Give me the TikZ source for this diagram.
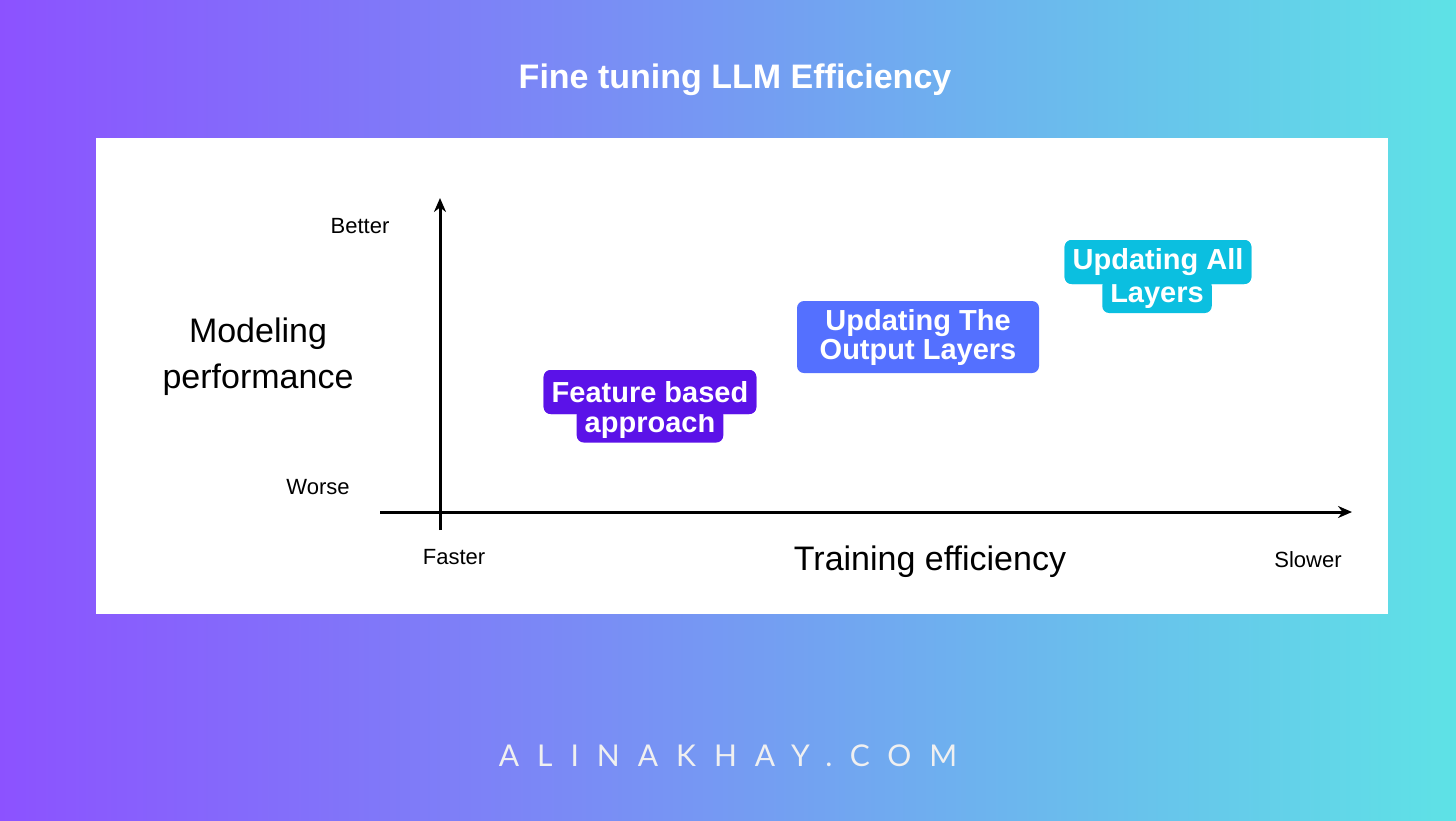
\documentclass[tikz,border=0pt]{standalone}
\usepackage{fontspec}
\usetikzlibrary{arrows.meta}
\setmainfont{Liberation Sans}
\newfontfamily\spaced[LetterSpace=60]{Lato}
\begin{document}
\begin{tikzpicture}[x=1pt,y=-1pt,
  ax/.style={line width=3pt,-{Stealth[length=14pt,width=12pt]}},
  lbl/.style={font=\fontsize{22}{24}\selectfont, text=black},
  big/.style={font=\fontsize{34}{40}\selectfont, text=black},
  tag/.style={rounded corners=7pt, text=white, font=\fontsize{29}{30}\selectfont\bfseries, inner xsep=8pt, inner ysep=4pt}]
\definecolor{cpurple}{RGB}{140,82,255}
\definecolor{ccyan}{RGB}{94,226,230}
\definecolor{tagA}{RGB}{91,18,232}
\definecolor{tagB}{RGB}{84,112,255}
\definecolor{tagC}{RGB}{11,191,224}
\useasboundingbox (0,0) rectangle (1456,820);
\shade[left color=cpurple, right color=ccyan] (0,0) rectangle (1456,820);
\fill[white] (96,138) rectangle (1388,614);
\node[text=white, font=\fontsize{34}{40}\selectfont\bfseries] (title) at (735,80) {Fine tuning LLM Efficiency};
\coordinate (ybot) at (440,530); \coordinate (ytop) at (440,198);
\coordinate (xl) at (380,512); \coordinate (xr) at (1352,512);
\draw[ax] (ybot) -- (ytop);
\draw[ax] (xl) -- (xr);
\node[lbl] (better) at (360,226) {Better};
\node[lbl] (worse) at (318,487) {Worse};
\node[lbl] (faster) at (454,557) {Faster};
\node[lbl] (slower) at (1308,560) {Slower};
\node[big] (train) at (930,562) {Training efficiency};
\node[big, align=center, font=\fontsize{34}{46}\selectfont] (model) at (258,357) {Modeling\\performance};
% tags
\node[tag, fill=tagA, minimum height=44pt] (a1) at (650,392) {Feature based};
\node[tag, fill=tagA, minimum height=34pt] (a2) at (650,425) {approach};
\node[tag, fill=tagA, minimum height=44pt] at (650,392) {Feature based};
\node[tag, fill=tagB, align=center, minimum width=242pt, minimum height=72pt, font=\fontsize{29}{29}\selectfont\bfseries] (b) at (918,337) {Updating The\\Output Layers};
\node[tag, fill=tagC, minimum height=44pt] (c1) at (1158,262) {Updating All};
\node[tag, fill=tagC, minimum height=34pt] (c2) at (1157,296) {Layers};
\node[tag, fill=tagC, minimum height=44pt] at (1158,262) {Updating All};
\node[text=white!88!gray, font=\spaced\fontsize{30}{34}\selectfont] (foot) at (728,756) {ALINAKHAY.COM};
\end{tikzpicture}
\end{document}
